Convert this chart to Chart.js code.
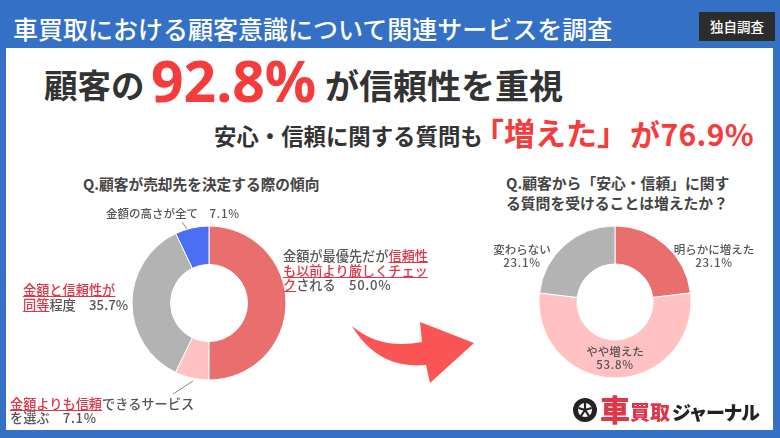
<!DOCTYPE html>
<html lang="ja">
<head>
<meta charset="utf-8">
<style>
  html, body { margin: 0; padding: 0; }
  body { width: 780px; height: 438px; overflow: hidden; background: #3370c6; position: relative;
         font-family: "Noto Sans CJK JP", sans-serif; color: #333; }
  .t { position: absolute; white-space: nowrap; }
  .panel { position: absolute; left: 6px; top: 48px; width: 767px; height: 382px; background: #fff; }
  .lab { font-size: 13.2px; line-height: 14.5px; color: #555; font-weight: 500; }
  .small { font-size: 11.5px; line-height: 13px; text-align: center; width: 100px; }
  .lab u { color: #e0364a; text-decoration-thickness: 1.2px; text-underline-offset: 1px; }
  .num { letter-spacing: 0.7px; }
  .q { font-weight: 700; color: #444; line-height: 20px; }
  .red { color: #f43c3c; }
  canvas { position: absolute; }
  svg { position: absolute; left: 0; top: 0; }
</style>
<script src="https://cdn.jsdelivr.net/npm/chart.js@4"></script>
</head>
<body>
<div class="panel"></div>
<div class="t" style="left:13px;top:13px;font-size:25px;line-height:30px;color:#fff;font-weight:500;">車買取における顧客意識について関連サービスを調査</div>
<div class="t" style="left:699px;top:12px;width:76px;height:29px;background:#2c2c2c;color:#fff;font-size:13.5px;line-height:29px;text-align:center;font-weight:500;">独自調査</div>

<div class="t" style="left:44px;top:54px;font-size:33.5px;line-height:60px;font-weight:700;">顧客の</div>
<div class="t red" style="left:151px;top:45px;font-size:57px;line-height:70px;font-weight:700;font-family:'Noto Sans',sans-serif;">92.8%</div>
<div class="t" style="left:325px;top:55px;font-size:34px;line-height:60px;font-weight:700;">が信頼性を重視</div>
<div class="t" style="left:214px;top:117px;font-size:22.4px;line-height:36px;font-weight:700;">安心・信頼に関する質問も</div>
<div class="t red" style="left:473px;top:110px;font-size:31px;line-height:44px;font-weight:700;">「増えた」</div>
<div class="t red" style="left:630px;top:113px;font-size:30px;line-height:40px;font-weight:700;letter-spacing:0.4px;">が76.9%</div>

<div class="t q" style="left:83px;top:174px;font-size:14.7px;">Q.顧客が売却先を決定する際の傾向</div>
<div class="t q" style="left:506px;top:173px;font-size:14.8px;">Q.顧客から「安心・信頼」に関す<br>る質問を受けることは増えたか？</div>

<canvas id="leftDonut" width="170" height="170" style="left:124px;top:218px;width:170px;height:170px"></canvas>
<canvas id="rightDonut" width="170" height="170" style="left:530px;top:217px;width:170px;height:170px"></canvas>

<svg width="780" height="438">
  <!-- leader lines -->
  <line x1="182" y1="222" x2="187" y2="229" stroke="#888" stroke-width="1"/>
  <line x1="193" y1="381" x2="173" y2="394" stroke="#888" stroke-width="1"/>
  <!-- arrow -->
  <path d="M352 326 Q380 350 422 342 L420 322 L474 343 L430 383 L426 365 C395 368 370 356 352 326 Z" fill="#fb5454"/>
  <!-- wheel logo -->
  <circle cx="585" cy="410" r="12" fill="#222"/>
  <circle cx="585" cy="410" r="7" fill="#fff"/>
  <path d="M585 410V403M585 410L578.5 408M585 410L591.5 408M585 410L581 416M585 410L589 416" stroke="#222" stroke-width="2.2"/>
</svg>

<div class="t lab" style="left:106px;top:206px;font-size:11.5px;line-height:14px;">金額の高さが全て　<span class="num">7.1%</span></div>
<div class="t lab" style="left:283px;top:249px;">金額が最優先だが<u>信頼性</u><br><u>も以前より厳しくチェッ</u><br><u>ク</u>される　<span class="num">50.0%</span></div>
<div class="t lab" style="left:23px;top:282px;line-height:15px;"><u>金額と信頼性が</u><br><u>同等</u>程度　<span style="letter-spacing:0.1px">35.7%</span></div>
<div class="t lab" style="left:10px;top:397px;line-height:13.5px;"><u>金額よりも信頼</u>できるサービス<br>を選ぶ　<span class="num">7.1%</span></div>

<div class="t lab small" style="left:472px;top:243px;">変わらない<br><span class="num">23.1%</span></div>
<div class="t lab small" style="left:664px;top:243px;">明らかに増えた<br><span class="num">23.1%</span></div>
<div class="t lab small" style="left:565px;top:345px;">やや増えた<br><span class="num">53.8%</span></div>

<div class="t" style="left:600px;top:387px;font-size:30px;line-height:42px;font-weight:900;color:#e0364a;">車</div>
<div class="t" style="left:630px;top:396px;font-size:20px;line-height:32px;font-weight:900;color:#e0364a;">買取</div>
<div class="t" style="left:672px;top:397px;font-size:19px;line-height:30px;font-weight:900;color:#222;letter-spacing:-1.5px;">ジャーナル</div>

<script>
const leftLabels = ['金額が最優先だが信頼性も以前より厳しくチェックされる', '金額よりも信頼できるサービスを選ぶ', '金額と信頼性が同等程度', '金額の高さが全て'];
const leftValues = [50.0, 7.1, 35.7, 7.1];
const leftColors = ['#e96f6f', '#ffc1c1', '#b3b3b3', '#4a6ff5'];

const rightLabels = ['明らかに増えた', 'やや増えた', '変わらない'];
const rightValues = [23.1, 53.8, 23.1];
const rightColors = ['#e96f6f', '#ffc1c1', '#b3b3b3'];

function makeDonut(id, labels, values, colors, radius) {
    return new Chart(document.getElementById(id), {
        type: 'doughnut',
        data: {
            labels: labels,
            datasets: [{
                data: values,
                backgroundColor: colors,
                borderColor: '#fff',
                borderWidth: 1
            }]
        },
        options: {
            responsive: false,
            animation: false,
            radius: radius,
            cutout: '50%',
            plugins: { legend: { display: false }, tooltip: { enabled: false } }
        }
    });
}

makeDonut('leftDonut', leftLabels, leftValues, leftColors, 77);
makeDonut('rightDonut', rightLabels, rightValues, rightColors, 76);
</script>
</body>
</html>
